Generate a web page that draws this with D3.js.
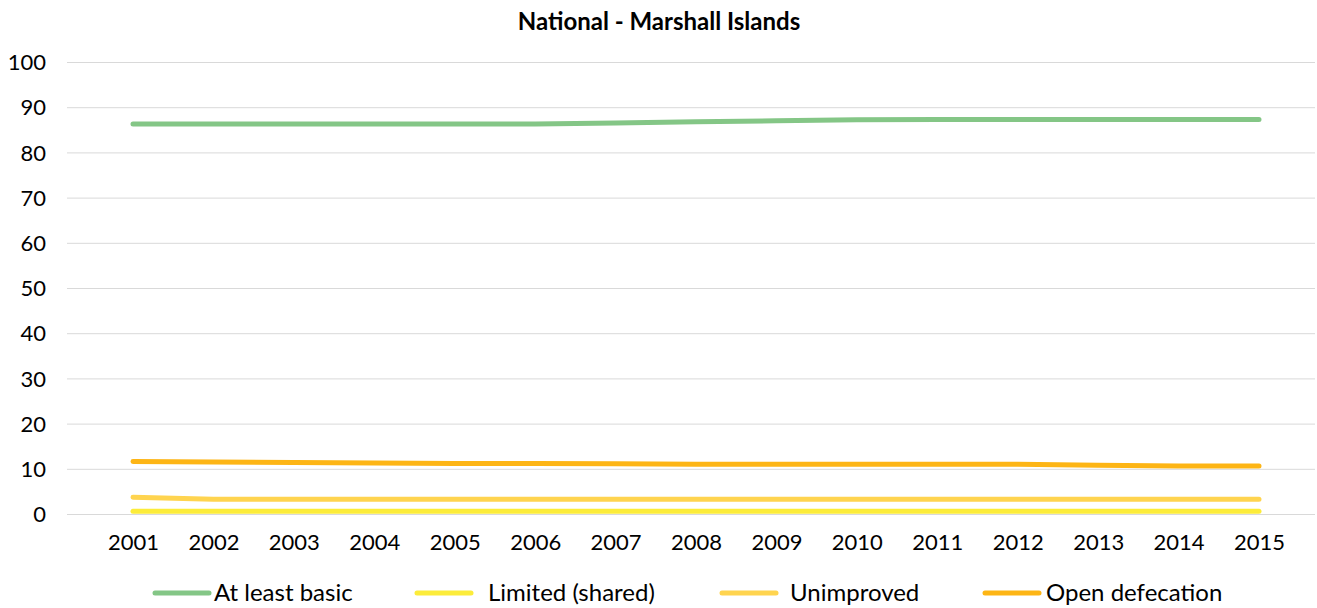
<!DOCTYPE html>
<meta charset="utf-8">
<style>
  body { margin: 0; background: #fff; }
  .title { font-family: Lato, sans-serif; font-weight: bold; font-size: 24px; fill: #000; }
  .tick text { font-family: Lato, sans-serif; font-size: 22px; fill: #000; }
  .legend-label { font-family: Lato, sans-serif; font-size: 24px; fill: #000; }
</style>
<script src="https://d3js.org/d3.v7.min.js"></script>
<div id="chart"></div>
<script>
  // data
  const years = [2001, 2002, 2003, 2004, 2005, 2006, 2007, 2008, 2009, 2010, 2011, 2012, 2013, 2014, 2015]
  const atLeastBasic = [86.3, 86.3, 86.3, 86.3, 86.3, 86.3, 86.5, 86.8, 87.0, 87.2, 87.3, 87.3, 87.3, 87.3, 87.3]
  const limitedShared = [0.6, 0.6, 0.6, 0.6, 0.6, 0.6, 0.6, 0.6, 0.6, 0.6, 0.6, 0.6, 0.6, 0.6, 0.6]
  const unimproved = [3.7, 3.25, 3.25, 3.25, 3.25, 3.25, 3.25, 3.25, 3.25, 3.25, 3.25, 3.25, 3.25, 3.25, 3.25]
  const openDefecation = [11.6, 11.5, 11.4, 11.3, 11.2, 11.2, 11.1, 11.0, 11.0, 11.0, 11.0, 11.0, 10.8, 10.6, 10.6]
  const yTicks = [0, 10, 20, 30, 40, 50, 60, 70, 80, 90, 100]

  const series = [
    {name: "At least basic", values: atLeastBasic, color: "#84C686", lx: 155, tx: 214},
    {name: "Limited (shared)", values: limitedShared, color: "#FCEC3A", lx: 417, tx: 488},
    {name: "Unimproved", values: unimproved, color: "#FFD44F", lx: 722, tx: 790},
    {name: "Open defecation", values: openDefecation, color: "#FDB515", lx: 985, tx: 1046}
  ]

  const W = 1317, H = 608
  const svg = d3.select("#chart").append("svg")
      .attr("width", W).attr("height", H)

  const gridLeft = 67, gridRight = 1315

  const x = d3.scalePoint()
      .domain(years)
      .range([133, 1259])

  const y = d3.scaleLinear()
      .domain([0, 100])
      .range([514, 62])

  svg.append("text")
      .attr("class", "title")
      .attr("x", 659).attr("y", 30)
      .attr("text-anchor", "middle")
      .text("National - Marshall Islands")

  // y axis with gridlines
  const yAxis = svg.append("g")
      .attr("transform", `translate(${gridLeft},0)`)
      .call(d3.axisLeft(y).tickValues(yTicks).tickSize(-(gridRight - gridLeft)).tickPadding(21))
  yAxis.select(".domain").remove()
  yAxis.selectAll(".tick line").attr("stroke", "#d9d9d9").attr("stroke-width", 1)
  yAxis.selectAll(".tick text").attr("dy", "0.35em")

  // x axis labels
  const xAxis = svg.append("g")
      .attr("transform", "translate(0,514)")
      .call(d3.axisBottom(x).tickSize(0).tickPadding(20).tickFormat(d3.format("d")))
  xAxis.select(".domain").remove()

  const line = d3.line()
      .x((d, i) => x(years[i]))
      .y(d => y(d))

  svg.append("g").selectAll("path")
      .data(series)
      .join("path")
      .attr("d", d => line(d.values))
      .attr("fill", "none")
      .attr("stroke", d => d.color)
      .attr("stroke-width", 5)
      .attr("stroke-linecap", "round")
      .attr("stroke-linejoin", "round")

  // legend
  const legend = svg.append("g").selectAll("g")
      .data(series)
      .join("g")
  legend.append("line")
      .attr("x1", d => d.lx).attr("x2", d => d.lx + 54)
      .attr("y1", 593).attr("y2", 593)
      .attr("stroke", d => d.color)
      .attr("stroke-width", 5)
      .attr("stroke-linecap", "round")
  legend.append("text")
      .attr("class", "legend-label")
      .attr("x", d => d.tx).attr("y", 593)
      .attr("dy", "0.35em")
      .text(d => d.name)
</script>
